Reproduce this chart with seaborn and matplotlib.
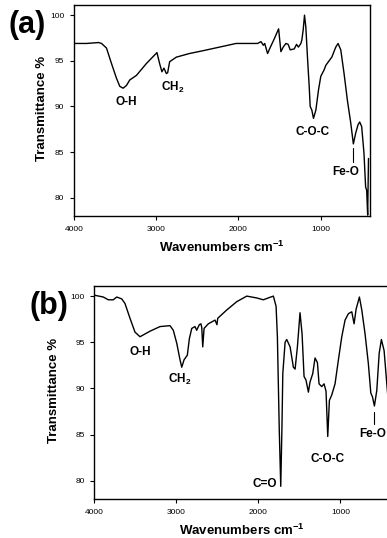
import matplotlib
matplotlib.use("Agg")
import matplotlib.pyplot as plt
import seaborn as sns

# (a) spectrum
wn_a = [4000, 3995, 3846, 3700, 3664, 3604, 3543, 3483, 3442, 3402, 3361, 3321,
        3240, 3119, 2990, 2958, 2930, 2905, 2876, 2860, 2836, 2755, 2594, 2433,
        2230, 2028, 1766, 1725, 1697, 1680, 1645, 1616, 1564, 1511, 1483, 1455,
        1422, 1395, 1370, 1321, 1293, 1270, 1240, 1228, 1212, 1196, 1180, 1160,
        1139, 1127, 1107, 1087, 1058, 1026, 998, 958, 937, 905, 864, 816, 788,
        755, 715, 675, 634, 602, 573, 545, 525, 501, 473, 453, 440, 428, 418]
tr_a = [97.8, 96.9, 96.9, 97.0, 96.9, 96.4, 94.7, 93.1, 92.2, 92.0, 92.3, 92.9,
        93.4, 94.7, 95.9, 94.7, 93.8, 94.2, 93.6, 93.7, 94.9, 95.4, 95.8, 96.1,
        96.5, 96.9, 96.9, 97.1, 96.7, 96.9, 95.8, 96.4, 97.4, 98.5, 96.0, 96.5,
        96.9, 96.8, 96.2, 96.3, 96.8, 96.5, 96.9, 97.3, 98.4, 100.0, 98.7, 95.4,
        92.2, 90.0, 89.6, 88.7, 89.6, 91.8, 93.3, 94.0, 94.5, 94.9, 95.4, 96.5, 96.9,
        96.2, 93.6, 90.7, 88.2, 85.9, 87.1, 88.0, 88.3, 87.8, 84.9, 81.2, 80.8, 78.1, 84.3]

# (b) spectrum
wn_b = [4000, 3890, 3830, 3768, 3727, 3666, 3626, 3565, 3504, 3443, 3382, 3321,
        3199, 3077, 3037, 2995, 2955, 2934, 2906, 2882, 2866, 2841, 2812, 2772,
        2752, 2720, 2700, 2690, 2678, 2662, 2610, 2528, 2505, 2495, 2385, 2263,
        2141, 2020, 1939, 1880, 1817, 1784, 1768, 1745, 1727, 1712, 1702, 1674,
        1654, 1613, 1573, 1552, 1524, 1492, 1467, 1443, 1419, 1390, 1370, 1337,
        1309, 1280, 1260, 1227, 1199, 1175, 1154, 1134, 1105, 1065, 1024, 983,
        943, 902, 861, 833, 808, 768, 739, 699, 659, 629, 609, 585, 556, 527,
        500, 467, 434, 415]
tr_b = [100.1, 99.9, 99.6, 99.6, 99.9, 99.7, 99.2, 97.6, 96.1, 95.6, 95.9, 96.2,
        96.7, 96.8, 96.3, 94.9, 93.1, 92.3, 93.1, 93.4, 93.6, 95.4, 96.5, 96.7,
        96.3, 96.9, 97.0, 96.6, 94.5, 96.5, 97.0, 97.4, 96.9, 97.6, 98.5, 99.4,
        100.0, 99.8, 99.6, 99.8, 100.0, 98.9, 95.6, 85.5, 79.4, 86.0, 91.6, 95.0,
        95.3, 94.5, 92.3, 92.1, 94.5, 98.2, 95.9, 91.3, 90.9, 89.6, 90.7, 91.6,
        93.3, 92.8, 90.5, 90.2, 90.5, 89.7, 84.8, 88.7, 89.3, 90.5, 93.1, 95.6,
        97.4, 98.1, 98.3, 97.0, 98.6, 99.9, 98.5, 95.9, 92.7, 89.5, 89.1, 88.1, 89.8, 93.8,
        95.3, 94.1, 90.5, 88.5]

x_ticks = [4000, 3000, 2000, 1000]
y_ticks = [80, 85, 90, 95, 100]

labels_a = [("O-H", 3358, 90.5), ("CH$_\\mathbf{2}$", 2800, 92.1),
            ("C-O-C", 1103, 87.2), ("Fe-O", 690, 82.8)]
labels_b = [("O-H", 3443, 94.0), ("CH$_\\mathbf{2}$", 2955, 91.0),
            ("C=O", 1918, 79.7), ("C-O-C", 1159, 82.4), ("Fe-O", 603, 85.1)]

sns.set_style("ticks")
plt.rcParams["font.family"] = ["Liberation Sans", "DejaVu Sans"]
plt.rcParams["mathtext.fontset"] = "custom"
plt.rcParams["mathtext.rm"] = "Liberation Sans"
plt.rcParams["mathtext.bf"] = "Liberation Sans:bold"
plt.rcParams.update({"text.color": "black", "axes.labelcolor": "black",
                     "xtick.color": "black", "ytick.color": "black"})

fig = plt.figure(figsize=(3.87, 5.38), dpi=100)
ax_a = fig.add_axes([0.191, 0.5985, 0.765, 0.392])
ax_b = fig.add_axes([0.2437, 0.072, 0.763, 0.3965])


def style_axis(ax, wn, tr, labels, fe_line, ylab_x, xlab_y):
    sns.lineplot(x=wn, y=tr, ax=ax, color="black", linewidth=1.0,
                 estimator=None, sort=False)
    ax.set_xlim(4000, 400)
    ax.set_ylim(78, 101.1)
    ax.set_xticks(x_ticks)
    ax.set_yticks(y_ticks)
    ax.tick_params(direction="out", length=3, width=0.8, labelsize=6, pad=4)
    for s in ax.spines.values():
        s.set_linewidth(1.0)
        s.set_color("black")
    ax.set_xlabel("Wavenumbers cm$^{\\mathbf{-1}}$", fontsize=9.5, fontweight="bold")
    ax.set_ylabel("Transmittance %", fontsize=9.5, fontweight="bold")
    ax.xaxis.set_label_coords(0.5, xlab_y)
    ax.yaxis.set_label_coords(ylab_x, 0.51)
    for txt, x, y in labels:
        ax.text(x, y, txt, fontsize=8.5, fontweight="bold", ha="center", va="center")
    x0, y0, y1 = fe_line
    ax.plot([x0, x0], [y0, y1], color="black", linewidth=0.8)


style_axis(ax_a, wn_a, tr_a, labels_a, (606, 85.45, 83.9), -0.086, -0.114)
style_axis(ax_b, wn_b, tr_b, labels_b, (589, 87.5, 86.2), -0.115, -0.111)

fig.text(27 / 387, 1 - 25 / 538, "(a)", fontsize=22, fontweight="bold",
         ha="center", va="center")
fig.text(48.5 / 387, 1 - 306 / 538, "(b)", fontsize=22, fontweight="bold",
         ha="center", va="center")

fig.savefig("out.png", dpi=100)
